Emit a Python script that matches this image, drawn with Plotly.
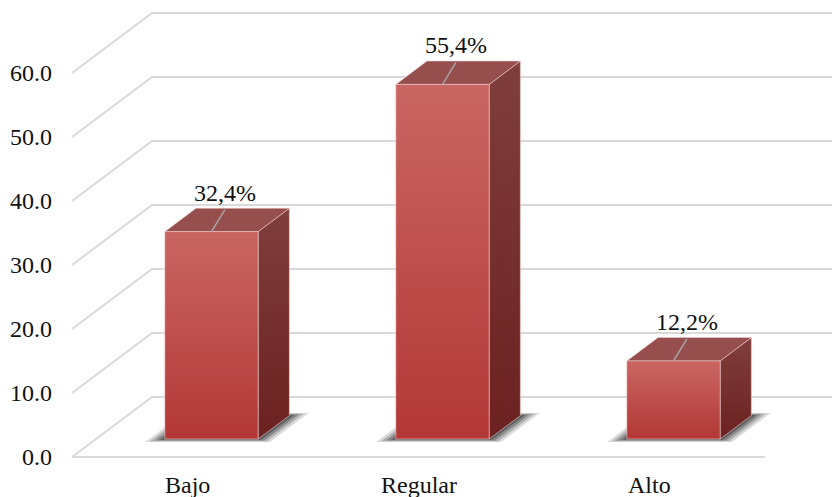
import plotly.graph_objects as go

# Data
categories = ["Bajo", "Regular", "Alto"]
values = [32.4, 55.4, 12.2]
tick_values = [0, 10, 20, 30, 40, 50, 60]
tick_labels = ["0.0", "10.0", "20.0", "30.0", "40.0", "50.0", "60.0"]

# Figure geometry (pixel scale of one category slot and one value unit)
W, H = 832, 497
PX_CAT = 231.0
PX_VAL = 6.4
LEFT_PX = 72.0      # front-left corner of the floor
FLOOR_PX = 457.0    # front edge of the floor (value 0)

xmin = -0.5 - LEFT_PX / PX_CAT
xmax = xmin + W / PX_CAT
ymin = -(H - FLOOR_PX) / PX_VAL
ymax = ymin + H / PX_VAL

# Oblique projection of the depth axis, in data units
DX = 80.0 / PX_CAT
DY = 60.0 / PX_VAL
HW = 0.202          # half bar width
F0, F1 = 0.30, 0.69  # bar depth range (fraction of floor depth)

FONT = "Liberation Serif"
FONT_SIZE = 24
TEXT_COLOR = "#111111"
GRID = "#d9d9d9"

fig = go.Figure()


def poly(xs, ys, **kw):
    fig.add_trace(go.Scatter(x=xs + [xs[0]], y=ys + [ys[0]], mode="lines",
                             fill="toself", hoverinfo="skip", showlegend=False, **kw))


# Walls and floor grid: side wall diagonal + back wall horizontal
x_left, x_right = -0.5, len(categories) - 0.5
for v in tick_values:
    fig.add_trace(go.Scatter(
        x=[x_left, x_left + DX, x_right + DX], y=[v, v + DY, v + DY],
        mode="lines", line=dict(color=GRID, width=2),
        hoverinfo="skip", showlegend=False))
# front edge of the floor
fig.add_trace(go.Scatter(x=[x_left, x_right], y=[0, 0], mode="lines",
                         line=dict(color=GRID, width=2),
                         hoverinfo="skip", showlegend=False))

# Soft shadows on the floor
for i, v in enumerate(values):
    for s, op in [(1.0, 0.16), (0.75, 0.22), (0.5, 0.28), (0.25, 0.38)]:
        fa = F0 - 0.05 * s
        fb = F1 + 0.045 * s
        ex = 0.068 * s
        xa = i - HW - ex
        xb = i + HW + ex
        xs = [xa + fa * DX, xb + fa * DX, xb + fb * DX, xa + fb * DX]
        ys = [fa * DY, fa * DY, fb * DY, fb * DY]
        poly(xs, ys, line=dict(width=0), fillcolor=f"rgba(30,30,30,{op})")

# 3D bars
edge = dict(color="rgba(240,205,205,0.55)", width=1)
d = F1 - F0
for i, v in enumerate(values):
    x0 = i - HW + F0 * DX
    x1 = i + HW + F0 * DX
    yb = F0 * DY
    yt = yb + v
    # side face
    poly([x1, x1, x1 + d * DX, x1 + d * DX], [yb, yt, yt + d * DY, yb + d * DY],
         line=edge, fillcolor="#7a3533",
         fillgradient=dict(type="vertical",
                           colorscale=[[0, "#6b2120"], [1, "#7f3e3c"]]))
    # top face
    poly([x0, x1, x1 + d * DX, x0 + d * DX], [yt, yt, yt + d * DY, yt + d * DY],
         line=edge, fillcolor="#964f4c")
    # front face
    poly([x0, x1, x1, x0], [yb, yb, yt, yt],
         line=edge, fillcolor="#c04a47",
         fillgradient=dict(type="vertical",
                           colorscale=[[0, "#b33836"], [1, "#c96662"]]))

# Data labels with leader lines
for i, v in enumerate(values):
    c = i + F0 * DX
    yt = F0 * DY + v
    fig.add_trace(go.Scatter(x=[c, c + 0.058], y=[yt, yt + 3.45], mode="lines",
                             line=dict(color="#a6a6a6", width=1.5),
                             hoverinfo="skip", showlegend=False))
    fig.add_annotation(x=c + 0.06, y=yt + 6.1, xref="x", yref="y",
                       text=f"{v:.1f}".replace(".", ",") + "%", showarrow=False,
                       xanchor="center", yanchor="middle",
                       font=dict(family=FONT, size=FONT_SIZE, color=TEXT_COLOR))

# Value axis labels
for v, lab in zip(tick_values, tick_labels):
    fig.add_annotation(x=x_left - 0.08, y=v, xref="x", yref="y", text=lab,
                       showarrow=False, xanchor="right", yanchor="middle",
                       font=dict(family=FONT, size=FONT_SIZE, color=TEXT_COLOR))

# Category labels
for i, cat in enumerate(categories):
    fig.add_annotation(x=i, y=-4.3, xref="x", yref="y", text=cat,
                       showarrow=False, xanchor="center", yanchor="middle",
                       font=dict(family=FONT, size=FONT_SIZE, color=TEXT_COLOR))

fig.update_layout(
    width=W, height=H, autosize=False,
    margin=dict(l=0, r=0, t=0, b=0),
    paper_bgcolor="white", plot_bgcolor="white",
    font=dict(family=FONT, color=TEXT_COLOR),
    xaxis=dict(range=[xmin, xmax], visible=False, fixedrange=True),
    yaxis=dict(range=[ymin, ymax], visible=False, fixedrange=True),
)

fig.write_html("out.html")
